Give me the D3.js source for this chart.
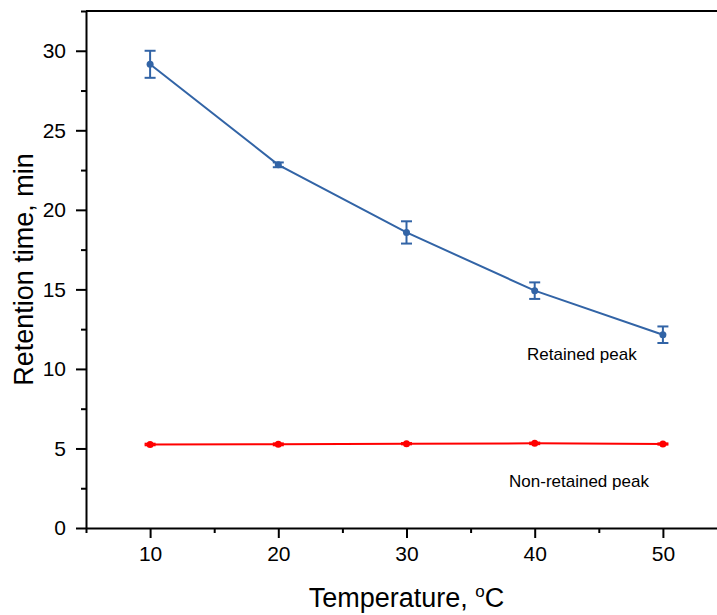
<!DOCTYPE html>
<html>
<head>
<meta charset="utf-8">
<script src="https://cdn.jsdelivr.net/npm/d3@7"></script>
<style>
  body { margin: 0; background: #fff; }
  svg { display: block; font-family: Arial, "Liberation Sans", sans-serif; }
</style>
</head>
<body>
<svg id="chart" width="717" height="615"></svg>
<script>
// Data
const temperatures = [10, 20, 30, 40, 50];
const retainedTime = [29.15, 22.83, 18.58, 14.92, 12.15];
const retainedErr = [0.85, 0.15, 0.7, 0.52, 0.52];
const nonRetainedTime = [5.25, 5.26, 5.3, 5.32, 5.28];
const nonRetainedErr = [0.05, 0.06, 0.04, 0.05, 0.04];
const xTicks = [10, 20, 30, 40, 50];
const yTicks = [0, 5, 10, 15, 20, 25, 30];

const width = 717, height = 615;
const margin = { top: 11, left: 86, bottom: 87 };

const svg = d3.select("#chart");

const x = d3.scaleLinear().domain([5, 55]).range([margin.left, margin.left + 641]);
const y = d3.scaleLinear().domain([0, 32.5]).range([height - margin.bottom, margin.top]);

// frame top line
svg.append("line")
  .attr("x1", margin.left).attr("x2", width)
  .attr("y1", margin.top).attr("y2", margin.top)
  .attr("stroke", "#000").attr("stroke-width", 2);

// minor ticks
const xMinor = d3.range(5, 56, 10);
const yMinor = d3.range(2.5, 33, 5);

const gx = svg.append("g").attr("transform", `translate(0,${height - margin.bottom})`);
gx.call(d3.axisBottom(x).tickValues(xMinor).tickSize(5).tickFormat(""));
gx.selectAll(".tick line").attr("stroke-width", 2);
gx.select(".domain").remove();
const gxMajor = svg.append("g").attr("transform", `translate(0,${height - margin.bottom})`)
  .call(d3.axisBottom(x).tickValues(xTicks).tickSize(10).tickPadding(8).tickSizeOuter(0));
gxMajor.select(".domain").attr("stroke-width", 2);
gxMajor.selectAll(".tick line").attr("stroke-width", 2);
gxMajor.selectAll("text").style("font-size", "21px").attr("fill", "#000");

const gy = svg.append("g").attr("transform", `translate(${margin.left},0)`);
gy.call(d3.axisLeft(y).tickValues(yMinor).tickSize(5).tickFormat(""));
gy.select(".domain").remove();
gy.selectAll(".tick line").attr("stroke-width", 2);
const gyMajor = svg.append("g").attr("transform", `translate(${margin.left},0)`)
  .call(d3.axisLeft(y).tickValues(yTicks).tickSize(10).tickPadding(10).tickSizeOuter(0));
gyMajor.select(".domain").attr("stroke-width", 2);
gyMajor.selectAll(".tick line").attr("stroke-width", 2);
gyMajor.selectAll("text").style("font-size", "21px").attr("fill", "#000");

// axis titles
svg.append("text")
  .attr("x", x(30)).attr("y", 607)
  .attr("text-anchor", "middle")
  .attr("font-size", 27)
  .call(t => {
    t.append("tspan").text("Temperature, ");
    t.append("tspan").attr("font-size", 17).attr("dy", -10).text("o");
    t.append("tspan").attr("dy", 10).text("C");
  });

svg.append("text")
  .attr("transform", `translate(33,${(y(0) + y(32.5)) / 2}) rotate(-90)`)
  .attr("text-anchor", "middle")
  .attr("font-size", 27)
  .text("Retention time, min");

function drawSeries(vals, errs, color, capW) {
  const pts = temperatures.map((t, i) => ({ t, v: vals[i], e: errs[i] }));
  const line = d3.line().x(d => x(d.t)).y(d => y(d.v));
  svg.append("path").datum(pts)
    .attr("fill", "none").attr("stroke", color).attr("stroke-width", 2)
    .attr("d", line);
  const eb = svg.append("g").attr("stroke", color).attr("stroke-width", 2);
  pts.forEach(d => {
    eb.append("line").attr("x1", x(d.t)).attr("x2", x(d.t))
      .attr("y1", y(d.v - d.e)).attr("y2", y(d.v + d.e));
    [d.v - d.e, d.v + d.e].forEach(v => {
      eb.append("line").attr("x1", x(d.t) - capW / 2).attr("x2", x(d.t) + capW / 2)
        .attr("y1", y(v)).attr("y2", y(v));
    });
  });
  svg.append("g").selectAll("circle").data(pts).join("circle")
    .attr("cx", d => x(d.t)).attr("cy", d => y(d.v))
    .attr("r", 3.5).attr("fill", color);
}

drawSeries(retainedTime, retainedErr, "#3264a6", 11);
drawSeries(nonRetainedTime, nonRetainedErr, "#ff0000", 11);

// series labels
svg.append("text")
  .attr("x", x(39.4)).attr("y", y(10.53))
  .attr("font-size", 17)
  .text("Retained peak");
svg.append("text")
  .attr("x", x(38)).attr("y", y(2.55))
  .attr("font-size", 17)
  .text("Non-retained peak");
</script>
</body>
</html>
